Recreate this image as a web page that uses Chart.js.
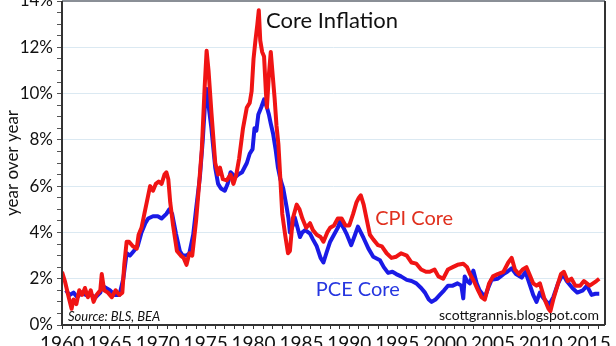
<!DOCTYPE html>
<html>
<head>
<meta charset="utf-8">
<script src="https://cdn.jsdelivr.net/npm/chart.js@4.4.1/dist/chart.umd.min.js"></script>
<style>
  html, body { margin: 0; padding: 0; background: #fff; }
  #chart { display: block; }
</style>
</head>
<body>
<canvas id="chart" width="616" height="346"></canvas>
<script>
// Core CPI, year over year (%)
const cpiYears = [
  1960.0, 1960.3, 1960.7, 1961.0, 1961.2, 1961.5, 1961.8, 1962.1, 1962.4, 1962.7,
  1963.0, 1963.3, 1963.6, 1964.0, 1964.15, 1964.4, 1964.8, 1965.2, 1965.6, 1966.0,
  1966.3, 1966.5, 1966.75, 1967.0, 1967.4, 1967.8, 1968.0, 1968.3, 1968.6, 1969.0,
  1969.2, 1969.5, 1969.8, 1970.1, 1970.4, 1970.7, 1970.9, 1971.1, 1971.3, 1971.6,
  1972.0, 1972.4, 1972.7, 1973.0, 1973.3, 1973.6, 1974.0, 1974.3, 1974.6, 1974.9,
  1975.1, 1975.3, 1975.6, 1976.0, 1976.3, 1976.5, 1976.8, 1977.2, 1977.6, 1977.9,
  1978.2, 1978.5, 1978.9, 1979.3, 1979.6, 1979.8, 1980.0, 1980.2, 1980.4, 1980.55,
  1980.7, 1980.9, 1981.1, 1981.3, 1981.4, 1981.6, 1981.8, 1982.0, 1982.2, 1982.4,
  1982.6, 1982.8, 1983.0, 1983.3, 1983.6, 1983.8, 1984.1, 1984.5, 1984.8, 1985.1,
  1985.5, 1985.9, 1986.2, 1986.6, 1987.0, 1987.3, 1987.7, 1988.0, 1988.4, 1988.8,
  1989.2, 1989.6, 1990.0, 1990.4, 1990.75, 1991.0, 1991.2, 1991.5, 1991.8, 1992.15,
  1992.5, 1993.0, 1993.4, 1993.9, 1994.4, 1994.9, 1995.4, 1996.0, 1996.5, 1997.0,
  1997.5, 1998.0, 1998.4, 1998.9, 1999.3, 1999.8, 2000.3, 2000.8, 2001.3, 2001.9,
  2002.3, 2002.6, 2003.0, 2003.45, 2003.8, 2004.15, 2004.6, 2005.0, 2005.5, 2006.1,
  2006.6, 2006.95, 2007.3, 2007.7, 2008.1, 2008.5, 2008.8, 2009.2, 2009.55, 2009.9,
  2010.4, 2010.8, 2011.0, 2011.3, 2011.8, 2012.1, 2012.4, 2012.8, 2013.2, 2013.6,
  2014.1, 2014.5, 2014.8, 2015.1, 2015.45, 2015.8, 2016.1
];
const cpiValues = [
  2.3, 1.9, 1.2, 0.7, 1.1, 0.9, 1.5, 1.3, 1.6, 1.2,
  1.5, 1.0, 1.3, 1.5, 2.2, 1.5, 1.4, 1.2, 1.5, 1.3,
  1.4, 2.6, 3.6, 3.6, 3.4, 3.3, 3.9, 4.2, 4.8, 5.6,
  6.0, 5.8, 6.1, 6.2, 6.1, 6.5, 6.6, 6.3, 5.3, 4.3,
  3.2, 3.0, 2.9, 2.6, 3.1, 3.0, 4.5, 6.0, 7.6, 10.3,
  11.85, 11.0, 9.2, 7.0, 6.5, 6.8, 6.3, 6.25, 6.5, 6.1,
  6.5, 7.2, 8.5, 9.4, 9.6, 10.1, 11.5, 12.3, 13.0, 13.6,
  12.3, 11.8, 11.6, 10.0, 9.4, 10.8, 11.8, 10.8, 9.8, 8.6,
  7.8, 6.3, 4.8, 3.9, 3.1, 3.2, 4.6, 5.2, 5.0, 4.6,
  4.2, 4.4, 4.1, 3.9, 3.8, 3.6, 4.0, 4.2, 4.3, 4.6,
  4.6, 4.3, 4.3, 4.8, 5.3, 5.5, 5.6, 5.2, 4.6, 3.9,
  3.7, 3.45, 3.4, 3.1, 2.9, 2.95, 3.1, 3.0, 2.7, 2.65,
  2.4, 2.3, 2.3, 2.4, 2.1, 2.0, 2.4, 2.5, 2.6, 2.65,
  2.5, 2.2, 1.9, 1.5, 1.2, 1.1, 1.8, 2.1, 2.2, 2.3,
  2.7, 2.9, 2.4, 2.2, 2.4, 2.5, 2.2, 1.8, 1.7, 1.8,
  1.1, 0.7, 0.6, 1.1, 1.8, 2.2, 2.3, 1.9, 2.0, 1.7,
  1.7, 1.9, 1.8, 1.7, 1.8, 1.9, 2.0
];

// Core PCE deflator, year over year (%)
const pceYears = [
  1960.4, 1960.8, 1961.2, 1961.6, 1962.0, 1962.5, 1963.0, 1963.5, 1964.0, 1964.2,
  1964.6, 1965.0, 1965.5, 1966.0, 1966.4, 1966.75, 1967.1, 1967.5, 1967.9, 1968.3,
  1968.7, 1969.0, 1969.5, 1970.0, 1970.4, 1970.9, 1971.2, 1971.5, 1971.9, 1972.3,
  1972.6, 1973.0, 1973.3, 1973.7, 1974.0, 1974.4, 1974.7, 1975.0, 1975.1, 1975.3,
  1975.6, 1976.0, 1976.3, 1976.6, 1977.0, 1977.3, 1977.6, 1978.1, 1978.4, 1978.8,
  1979.3, 1979.6, 1979.9, 1980.1, 1980.3, 1980.5, 1980.8, 1981.1, 1981.4, 1981.6,
  1981.8, 1982.05, 1982.3, 1982.55, 1982.8, 1983.1, 1983.45, 1983.65, 1983.8, 1984.1,
  1984.3, 1984.6, 1984.85, 1985.1, 1985.4, 1985.9, 1986.2, 1986.6, 1987.0, 1987.3,
  1987.6, 1988.0, 1988.4, 1988.8, 1989.0, 1989.4, 1989.7, 1990.2, 1990.6, 1990.9,
  1991.2, 1991.5, 1992.0, 1992.5, 1993.2, 1993.6, 1994.05, 1994.5, 1994.9, 1995.4,
  1996.0, 1996.5, 1997.0, 1997.5, 1997.9, 1998.3, 1998.6, 1999.0, 1999.45, 1999.9,
  2000.3, 2000.8, 2001.3, 2001.7, 2001.9, 2002.05, 2002.3, 2002.6, 2002.95, 2003.3,
  2003.6, 2004.15, 2004.5, 2004.85, 2005.5, 2006.1, 2006.5, 2006.95, 2007.4, 2008.0,
  2008.4, 2008.8, 2009.2, 2009.55, 2009.9, 2010.2, 2010.6, 2010.9, 2011.3, 2011.8,
  2012.3, 2012.7, 2013.3, 2013.8, 2014.4, 2014.8, 2015.3, 2015.7, 2016.1
];
const pceValues = [
  1.5, 1.3, 1.4, 1.2, 1.4, 1.3, 1.3, 1.2, 1.4, 1.7,
  1.6, 1.5, 1.3, 1.3, 2.0, 3.1, 3.0, 3.2, 3.4, 4.0,
  4.4, 4.6, 4.7, 4.7, 4.6, 4.8, 5.0, 4.8, 3.95, 3.2,
  3.0, 3.0, 3.1, 3.9, 5.0, 6.4, 8.0, 10.0, 10.2, 9.5,
  8.5, 6.8, 6.1, 5.9, 5.8, 6.1, 6.6, 6.4, 6.5, 6.6,
  7.0, 7.4, 7.6, 8.5, 8.4, 9.1, 9.4, 9.75, 9.4, 9.1,
  8.7, 8.25, 7.6, 6.8, 6.3, 5.9, 5.1, 4.6, 4.0, 4.3,
  4.65, 4.2, 3.8, 4.0, 4.1, 3.95, 3.7, 3.4, 2.9, 2.7,
  3.1, 3.6, 3.9, 4.2, 4.45, 4.2, 3.95, 3.45, 3.9, 4.25,
  4.0, 3.75, 3.3, 2.95, 2.8, 2.5, 2.25, 2.3, 2.2, 2.1,
  1.95, 1.9, 1.8, 1.6, 1.4, 1.1, 1.0, 1.1, 1.3, 1.5,
  1.7, 1.7, 1.8, 1.7, 1.15, 2.1, 1.9, 1.8, 2.35, 1.8,
  1.5, 1.2, 1.6, 1.95, 2.0, 2.2, 2.3, 2.45, 2.2, 2.05,
  2.3, 1.8, 1.3, 1.0, 1.4, 1.2, 1.0, 0.9, 1.2, 1.8,
  2.2, 1.9, 1.6, 1.4, 1.5, 1.7, 1.3, 1.35, 1.35
];

const yearMin = 1960;
const yearMax = 2016.7;
const pctMax = 14;

const FONT = "Lato, 'Open Sans', sans-serif";

// text drawn on the chart
const chartTitle = "Core Inflation";
const cpiLabel = "CPI Core";
const pceLabel = "PCE Core";
const sourceNote = "Source: BLS, BEA";
const siteNote = "scottgrannis.blogspot.com";

const toPoints = (xs, ys) => xs.map((x, i) => ({ x: x, y: ys[i] }));

const overlayPlugin = {
  id: "overlay",
  afterDraw(chart) {
    const { ctx, chartArea: a, scales } = chart;
    ctx.save();

    // plot frame
    ctx.strokeStyle = "#8a8f96";
    ctx.lineWidth = 2;
    ctx.beginPath();
    ctx.moveTo(a.left, a.top);
    ctx.lineTo(a.right, a.top);
    ctx.stroke();
    ctx.strokeStyle = "#333";
    ctx.beginPath();
    ctx.moveTo(a.right, a.top);
    ctx.lineTo(a.right, a.bottom);
    ctx.moveTo(a.left, a.top);
    ctx.lineTo(a.left, a.bottom);
    ctx.lineTo(a.right, a.bottom);
    ctx.stroke();

    ctx.textBaseline = "middle";
    ctx.textAlign = "center";
    ctx.fillStyle = "#111";
    ctx.font = "22px " + FONT;
    ctx.fillText(chartTitle, scales.x.getPixelForValue(1988.2), 21);

    ctx.textAlign = "left";
    ctx.fillStyle = "#e0301e";
    ctx.font = "20px " + FONT;
    ctx.fillText(cpiLabel, scales.x.getPixelForValue(1992.7), scales.y.getPixelForValue(4.62));

    ctx.fillStyle = "#2636e0";
    ctx.fillText(pceLabel, scales.x.getPixelForValue(1986.5), scales.y.getPixelForValue(1.55));

    ctx.fillStyle = "#111";
    ctx.font = "italic 13px " + FONT;
    ctx.fillText(sourceNote, a.left + 6, 317);

    ctx.textAlign = "right";
    ctx.font = "14px " + FONT;
    ctx.fillText(siteNote, a.right - 6, 315);

    ctx.restore();
  }
};

new Chart(document.getElementById("chart"), {
  type: "line",
  data: {
    datasets: [
      {
        label: cpiLabel,
        data: toPoints(cpiYears, cpiValues),
        borderColor: "#f01414",
        borderWidth: 4,
        pointRadius: 0,
        tension: 0,
        borderJoinStyle: "round"
      },
      {
        label: pceLabel,
        data: toPoints(pceYears, pceValues),
        borderColor: "#1a1ae6",
        borderWidth: 4,
        pointRadius: 0,
        tension: 0,
        borderJoinStyle: "round"
      }
    ]
  },
  options: {
    responsive: false,
    animation: false,
    devicePixelRatio: 1,
    layout: { padding: { top: 1, right: 11, left: 0, bottom: 0 } },
    plugins: {
      legend: { display: false },
      tooltip: { enabled: false },
      title: { display: false }
    },
    scales: {
      x: {
        type: "linear",
        min: yearMin,
        max: yearMax,
        border: { display: false },
        grid: {
          drawOnChartArea: false,
          tickLength: 4,
          tickColor: "#333",
          tickWidth: 1
        },
        ticks: {
          stepSize: 1,
          autoSkip: false,
          includeBounds: false,
          maxRotation: 0,
          padding: 3,
          color: "#111",
          font: { family: FONT, size: 19 },
          callback: v => (v % 5 === 0 ? String(v) : "")
        },
        afterFit: s => { s.height = 21; s.paddingLeft = 0; s.paddingRight = 0; }
      },
      y: {
        min: 0,
        max: pctMax,
        border: { display: false },
        grid: {
          color: ctx => (ctx.tick && ctx.tick.value % 2 === 0 && ctx.tick.value > 0 && ctx.tick.value < pctMax) ? "#dbe9f2" : "rgba(0,0,0,0)",
          lineWidth: 1,
          tickLength: 5,
          tickColor: "#555"
        },
        ticks: {
          stepSize: 0.5,
          autoSkip: false,
          padding: 4,
          color: "#111",
          font: { family: FONT, size: 17 },
          callback: v => (v % 2 === 0 ? v + "%" : "")
        },
        title: {
          display: true,
          text: "year over year",
          color: "#111",
          font: { family: FONT, size: 17 },
          padding: { top: 2, bottom: 0 }
        },
        afterFit: s => { s.width = 62; s.paddingTop = 0; s.paddingBottom = 0; }
      }
    }
  },
  plugins: [overlayPlugin]
});
</script>
</body>
</html>
